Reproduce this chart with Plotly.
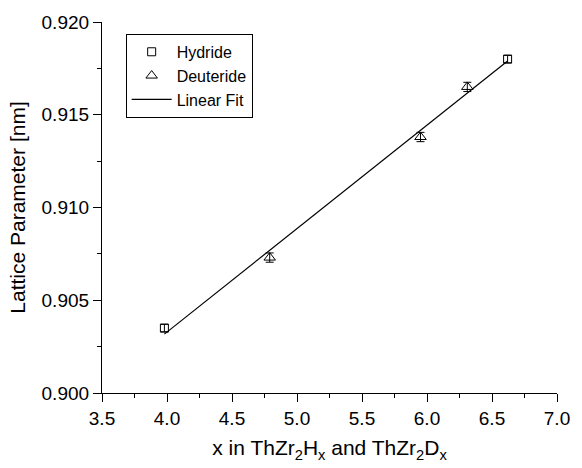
import numpy as np
import plotly.graph_objects as go

# Hydrogen / deuterium content and measured lattice parameters (nm)
hydride_x = [3.98, 6.62]
hydride_a = [0.9035, 0.9180]
hydride_err = [0.0002, 0.0002]

deuteride_x = [4.79, 5.95, 6.31]
deuteride_a = [0.9073, 0.9138, 0.9165]
deuteride_err = [0.00025, 0.00025, 0.00025]

x_range = [3.5, 7.0]
y_range = [0.900, 0.920]

# Linear fit through all points
all_x = np.array(hydride_x + deuteride_x)
all_a = np.array(hydride_a + deuteride_a)
slope, intercept = np.polyfit(all_x, all_a, 1)
fit_x = np.array([all_x.min(), all_x.max()])
fit_a = slope * fit_x + intercept

font_family = "Liberation Sans, Arial, sans-serif"

fig = go.Figure()

fig.add_trace(go.Scatter(
    x=hydride_x, y=hydride_a, mode="markers", name="Hydride",
    marker=dict(symbol="square-open", size=8, color="black", line=dict(width=1)),
    error_y=dict(type="data", array=hydride_err, color="black", thickness=1, width=4),
))
fig.add_trace(go.Scatter(
    x=deuteride_x, y=deuteride_a, mode="markers", name="Deuteride",
    marker=dict(symbol="triangle-up-open", size=10, color="black", line=dict(width=1)),
    error_y=dict(type="data", array=deuteride_err, color="black", thickness=1, width=4),
))
fig.add_trace(go.Scatter(
    x=fit_x, y=fit_a, mode="lines", name="Linear Fit",
    line=dict(color="black", width=1.2),
))

axis_common = dict(
    showgrid=False, zeroline=False, showline=True,
    linecolor="black", linewidth=1.2,
    tickcolor="black", tickwidth=1.2, ticklen=8,
    tickfont=dict(size=19, color="black", family=font_family),
)

fig.update_layout(
    width=582, height=468,
    margin=dict(l=102, r=14, t=16, b=73),
    paper_bgcolor="white", plot_bgcolor="white",
    font=dict(family=font_family, color="black"),
    showlegend=True,
    legend=dict(
        x=0.052, y=0.968, xanchor="left", yanchor="top",
        bordercolor="black", borderwidth=1, bgcolor="white",
        font=dict(size=16, color="black"),
        itemwidth=40, tracegroupgap=0,
    ),
    xaxis=dict(
        **axis_common, range=x_range, dtick=0.5, tickformat=".1f",
        ticks="outside",
        minor=dict(dtick=0.25, ticks="outside", ticklen=4, tickcolor="black", tickwidth=1.2),
        title=dict(text="x in ThZr<sub>2</sub>H<sub>x</sub> and ThZr<sub>2</sub>D<sub>x</sub>",
                   font=dict(size=21), standoff=12),
    ),
    yaxis=dict(
        **axis_common, range=y_range, dtick=0.005, tickformat=".3f",
        ticks="outside",
        minor=dict(dtick=0.0025, ticks="outside", ticklen=4, tickcolor="black", tickwidth=1.2),
        title=dict(text="Lattice Parameter [nm]", font=dict(size=21), standoff=10),
    ),
    xaxis2=dict(
        **axis_common, range=x_range, dtick=0.5, overlaying="x", side="top",
        ticks="inside", showticklabels=False,
        minor=dict(dtick=0.25, ticks="inside", ticklen=4, tickcolor="black", tickwidth=1.2),
    ),
    yaxis2=dict(
        **axis_common, range=y_range, dtick=0.005, overlaying="y", side="right",
        ticks="inside", showticklabels=False,
        minor=dict(dtick=0.0025, ticks="inside", ticklen=4, tickcolor="black", tickwidth=1.2),
    ),
)

fig.write_html("out.html")
